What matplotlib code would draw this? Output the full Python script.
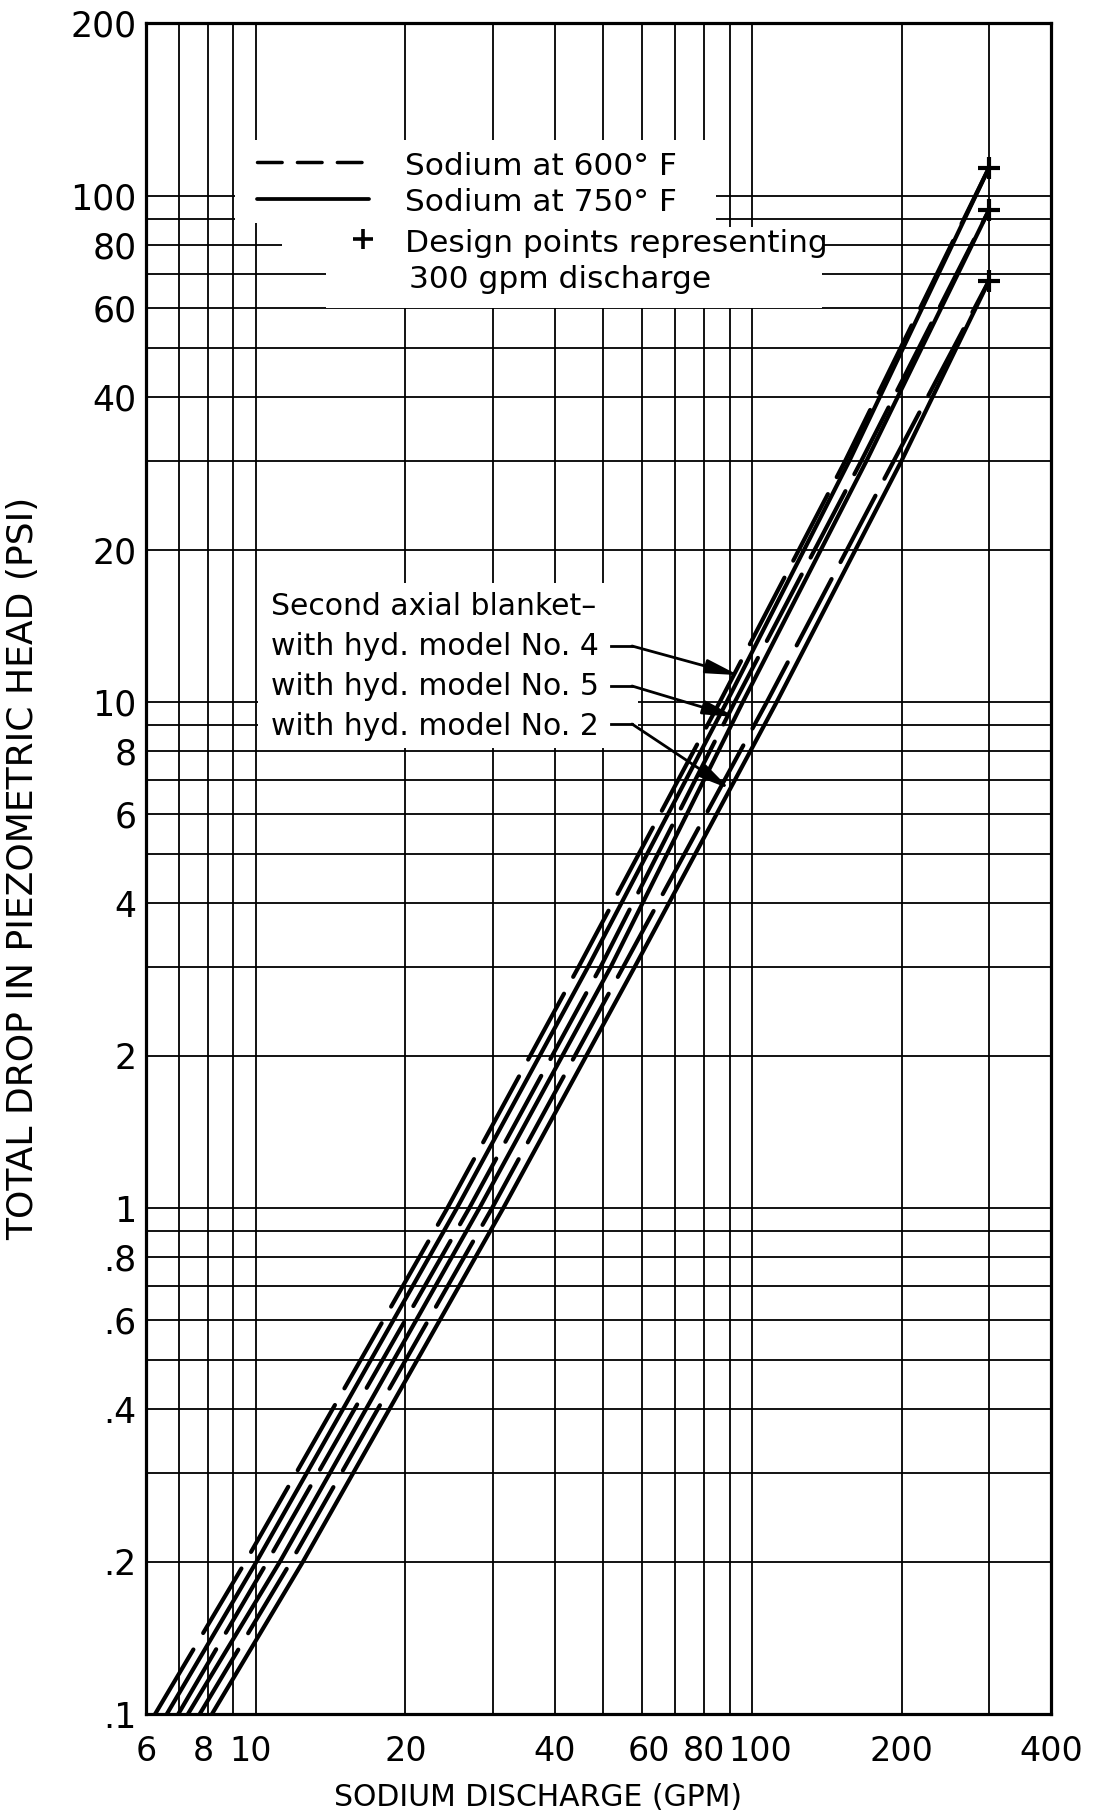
import matplotlib.pyplot as plt
from matplotlib.patches import Polygon
from matplotlib.ticker import NullFormatter
from matplotlib.transforms import ScaledTranslation
import numpy as np

plt.rcParams['font.family'] = ['DejaVu Sans']

drop = [0.1, 0.2, 1, 3, 10, 30]

# sodium discharge (gpm) at those drops, per hydraulic model and temperature
no4_600 = [6.26, 9.52, 24.3, 44.7, 86.0, 154]
no4_750 = [6.61, 10.02, 25.4, 46.7, 88.8, 157]
no5_600 = [6.97, 10.54, 26.9, 49.5, 92.2, 166]
no5_750 = [7.29, 11.17, 28.2, 51.9, 95.7, 170]
no2_600 = [7.70, 11.76, 29.9, 55.0, 107, 193]
no2_750 = [8.15, 12.43, 31.5, 58.0, 112, 200]

# design points, 300 gpm discharge (models 4, 5, 2)
design_q = 300
design_dp = [112, 93.8, 68]

xticks = [6, 8, 10, 20, 40, 60, 80, 100, 200, 400]
xlabels = ["6", "8", "10", "20", "40", "60", "80", "100", "200", "400"]
xminor = [7, 9, 30, 50, 70, 90, 300]
yticks = [0.1, 0.2, 0.4, 0.6, 0.8, 1, 2, 4, 6, 8, 10, 20, 40, 60, 80, 100, 200]
ylabels = [".1", ".2", ".4", ".6", ".8", "1", "2", "4", "6", "8",
           "10", "20", "40", "60", "80", "100", "200"]
yminor = [0.3, 0.5, 0.7, 0.9, 3, 5, 7, 9, 30, 50, 70, 90]

legend_txt = ["Sodium at 600\u00b0 F", "Sodium at 750\u00b0 F",
              "Design points representing", "300 gpm discharge"]
note_txt = ["Second axial blanket\u2013", "with hyd. model No. 4",
            "with hyd. model No. 5", "with hyd. model No. 2"]

# the graph paper's 100-200 cycle is drawn longer than the others
K = 1.136


def fwd(y):
    ly = np.log10(np.clip(np.asarray(y, dtype=float), 1e-9, None))
    return np.where(ly <= 2, ly, 2 + (ly - 2) * K)


def inv(u):
    u = np.asarray(u, dtype=float)
    return np.where(u <= 2, 10 ** u, 10 ** (2 + (u - 2) / K))


def axp(px, py):
    # pixel position on the 1093x1816 sheet -> axes fraction
    return (px - 146) / 905, (1714 - py) / 1691


fig = plt.figure(figsize=(10.93, 18.16), dpi=100)
ax = fig.add_axes([146 / 1093, 102 / 1816, 905 / 1093, 1691 / 1816])
ax.set_xscale('log')
ax.set_yscale('function', functions=(fwd, inv))
ax.set_xlim(6, 400)
ax.set_ylim(0.1, 200)

ax.set_xticks(xticks, xlabels)
ax.set_xticks(xminor, minor=True)
ax.set_yticks(yticks, ylabels)
ax.set_yticks(yminor, minor=True)
ax.xaxis.set_minor_formatter(NullFormatter())
ax.yaxis.set_minor_formatter(NullFormatter())
ax.tick_params(which='both', length=0)
ax.tick_params(axis='x', pad=15, labelsize=24)
ax.tick_params(axis='y', pad=7, labelsize=25)
ax.set_axisbelow(True)
ax.grid(True, which='both', color='black', lw=1.3)
for s in ax.spines.values():
    s.set_linewidth(2.3)

# the lettering of "60 80 100" sits a little off the grid lines
nudge = {"8": -5, "10": -5, "60": 7, "80": 0, "100": 8}
for lab in ax.get_xticklabels():
    dx = nudge.get(lab.get_text(), 0)
    if dx:
        lab.set_transform(lab.get_transform() + ScaledTranslation(dx / 100, 0, fig.dpi_scale_trans))

# white areas where the grid was left out behind the lettering
mask1 = [(235, 140), (716, 140), (716, 227), (822, 227), (822, 308),
         (326, 308), (326, 260), (282, 260), (282, 223), (235, 223)]
mask2 = [(258, 583), (638, 583), (638, 748), (258, 748)]
for m in (mask1, mask2):
    ax.add_patch(Polygon([axp(*p) for p in m], closed=True, transform=ax.transAxes,
                         facecolor='white', edgecolor='none', zorder=1.5))

# curves
curves = [(no4_600, design_dp[0], True), (no4_750, design_dp[0], False),
          (no5_600, design_dp[1], True), (no5_750, design_dp[1], False),
          (no2_600, design_dp[2], True), (no2_750, design_dp[2], False)]
for q, end_dp, dashed in curves:
    ln, = ax.plot(q + [design_q], drop + [end_dp], color='black', lw=3,
                  solid_capstyle='round', dash_capstyle='round', zorder=3)
    if dashed:
        ln.set_dashes((18, 4.6))
ax.plot([design_q] * 3, design_dp, '+', color='black', ms=16, mew=3, zorder=4)

# legend, lettered on the sheet
x0, y0 = axp(257, 162)
x1, _ = axp(368, 162)
ax.plot([x0, x1], [y0, y0], transform=ax.transAxes, color='black', lw=2.5,
        dashes=(7.1, 4.4), dash_capstyle='round', zorder=3)
x0, y0 = axp(257, 199)
x1, _ = axp(369, 199)
ax.plot([x0, x1], [y0, y0], transform=ax.transAxes, color='black', lw=2.7,
        solid_capstyle='round', zorder=3)
ax.plot(*axp(363, 239), '+', transform=ax.transAxes, color='black', ms=15,
        mew=2.6, zorder=3)
for txt, (px, py) in zip(legend_txt, [(405, 175), (405, 211), (405, 252), (409, 288)]):
    ax.text(*axp(px, py), txt, transform=ax.transAxes, fontsize=22.5,
            ha='left', va='baseline')

# model notes with leaders
for txt, py in zip(note_txt, [615, 655, 695, 735]):
    ax.text(*axp(271, py), txt, transform=ax.transAxes, fontsize=21.5,
            ha='left', va='baseline')
leaders = [(646, (93.8, 11.3)), (686, (92.5, 9.34)), (724, (90.1, 6.73))]
for py, tip in leaders:
    a = axp(611, py)
    b = axp(632, py)
    ax.plot([a[0], b[0]], [a[1], b[1]], transform=ax.transAxes, color='black',
            lw=2, zorder=3)
    ax.annotate('', xy=tip, xycoords='data', xytext=b, textcoords='axes fraction',
                arrowprops=dict(arrowstyle='-|>,head_length=1.4,head_width=0.3',
                                color='black', lw=2, shrinkA=0, shrinkB=0,
                                mutation_scale=14), zorder=4)

ax.set_xlabel("SODIUM DISCHARGE (GPM)", fontsize=21.5, va='center')
ax.xaxis.set_label_coords(*axp(538, 1798))
ax.set_ylabel("TOTAL DROP IN PIEZOMETRIC HEAD (PSI)", fontsize=26, va='center')
ax.yaxis.set_label_coords(*axp(23, 868))

fig.savefig("out.png", dpi=100)
